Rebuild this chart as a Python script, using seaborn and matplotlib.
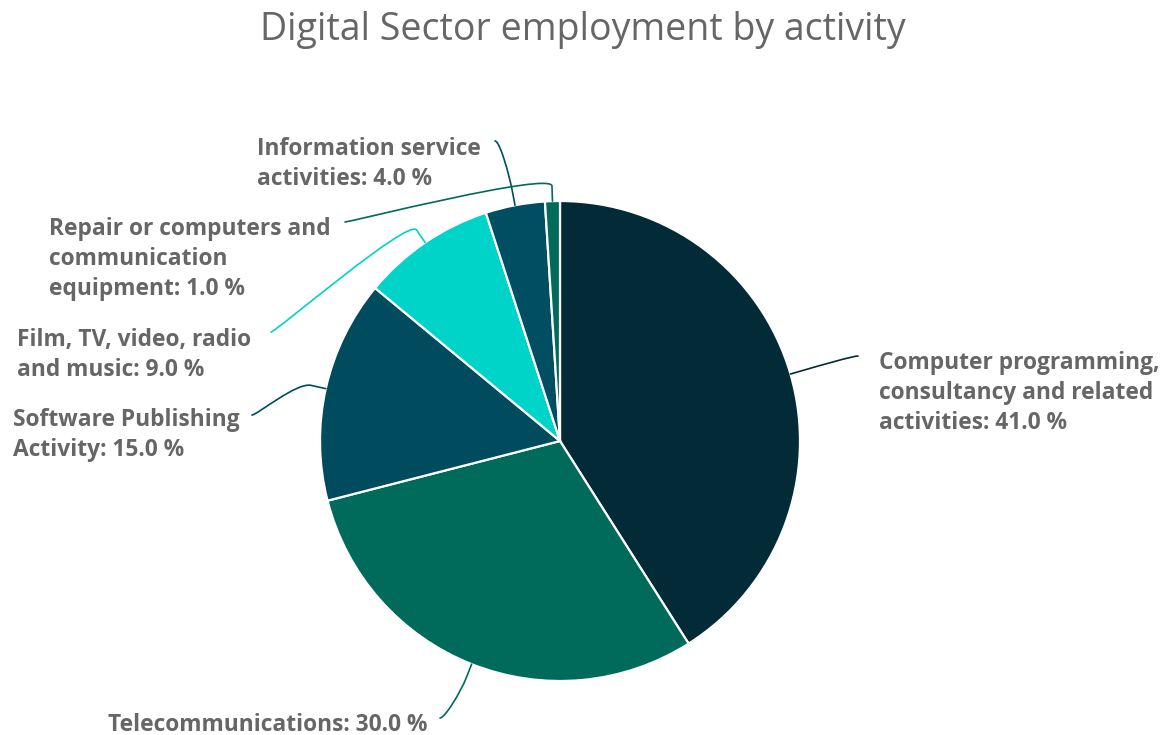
import matplotlib
matplotlib.use("Agg")
import matplotlib.pyplot as plt
from matplotlib.path import Path
from matplotlib.patches import PathPatch
import numpy as np
import seaborn as sns

# Data
categories = [
    "Computer programming,\nconsultancy and related\nactivities",
    "Telecommunications",
    "Software Publishing\nActivity",
    "Film, TV, video, radio\nand music",
    "Information service\nactivities",
    "Repair or computers and\ncommunication\nequipment",
]
shares = [41.0, 30.0, 15.0, 9.0, 4.0, 1.0]
slice_colors = ["#022a37", "#006a5b", "#004b5e", "#00d4c8", "#004e62", "#006b5b"]

title = "Digital Sector employment by activity"

# Canvas in pixel units (y measured from the top, converted below)
W, H = 1166, 735
CX, CY, R = 560, 441, 240

# Label layout: connector end point, text anchor, text alignment
label_layout = [
    dict(end=(858, 356), text=(879, 393), ha="left"),
    dict(end=(440, 718), text=(428, 725), ha="right"),
    dict(end=(252, 415), text=(240, 435), ha="right"),
    dict(end=(271, 332), text=(251, 355), ha="right"),
    dict(end=(495, 141), text=(481, 164), ha="right"),
    dict(end=(345, 222), text=(331, 259), ha="right"),
]


def px(x, y):
    return x, H - y


sns.set_theme(style="white")
plt.rcParams["font.family"] = ["Open Sans", "DejaVu Sans"]

fig = plt.figure(figsize=(W / 100, H / 100), dpi=100)
ax = fig.add_axes([0, 0, 1, 1])

palette = sns.color_palette(slice_colors)
wedges, _ = ax.pie(
    shares,
    colors=palette,
    startangle=90,
    counterclock=False,
    radius=R,
    center=px(CX, CY),
    wedgeprops=dict(edgecolor="white", linewidth=1.6),
)
ax.set_xlim(0, W)
ax.set_ylim(0, H)
ax.set_aspect("equal")
ax.axis("off")

cx, cy = px(CX, CY)
for wedge, cat, val, lay, col in zip(wedges, categories, shares, label_layout, palette):
    mid = np.deg2rad((wedge.theta1 + wedge.theta2) / 2)
    d = np.array([np.cos(mid), np.sin(mid)])
    touch = np.array([cx, cy]) + R * d
    brk = np.array([cx, cy]) + (R + 15) * d
    ctrl2 = 2 * brk - touch
    end = np.array(px(*lay["end"]))
    ctrl1 = end + np.array([-5 if lay["ha"] == "left" else 5, 0])
    path = Path(
        [end, ctrl1, ctrl2, brk, touch],
        [Path.MOVETO, Path.CURVE4, Path.CURVE4, Path.CURVE4, Path.LINETO],
    )
    ax.add_patch(PathPatch(path, facecolor="none", edgecolor=col, lw=1.2,
                           capstyle="round", zorder=3))
    tx, ty = px(*lay["text"])
    ax.text(tx, ty, f"{cat}: {val:.1f} %", ha=lay["ha"], va="center",
            multialignment="left", fontsize=16.4, fontweight="bold",
            color="#666666", linespacing=1.34)

fig.text(583 / W, 1 - 30 / H, title, ha="center", va="center",
         fontsize=27, color="#666666")

fig.savefig("out.png", dpi=100, facecolor="white")
